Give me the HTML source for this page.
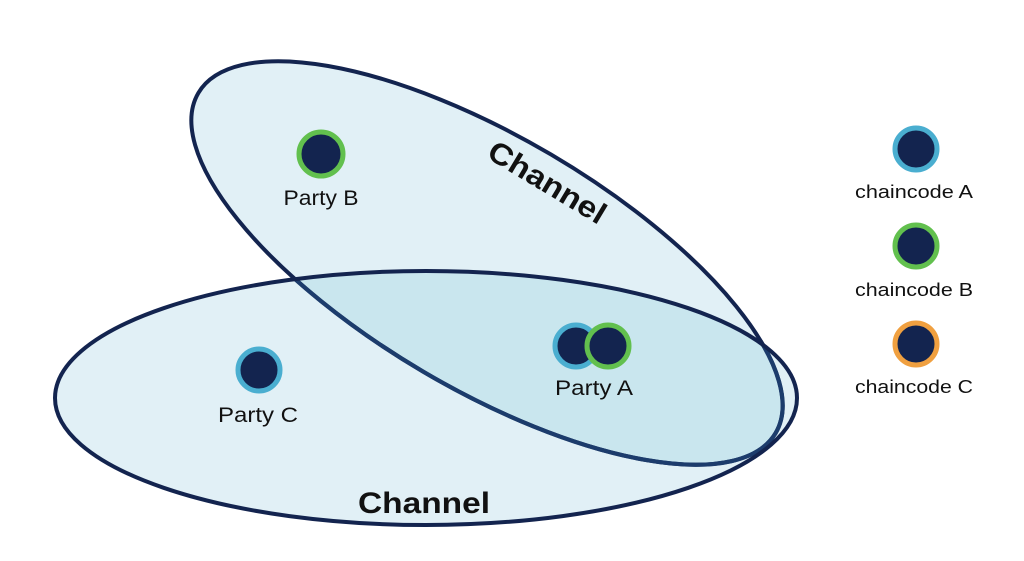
<!DOCTYPE html>
<html><head><meta charset="utf-8"><style>
html,body{margin:0;padding:0;background:#fff;}
svg{display:block;}
text{font-family:"Liberation Sans",sans-serif;fill:#111;}
</style></head><body>
<svg width="1024" height="561" viewBox="0 0 1024 561" xmlns="http://www.w3.org/2000/svg">
<defs>
<clipPath id="cb"><ellipse cx="426" cy="398" rx="371" ry="127"/></clipPath>
</defs>
<rect width="1024" height="561" fill="#fff"/>
<!-- tilted ellipse -->
<ellipse cx="487" cy="263" rx="335" ry="126" transform="rotate(30.5 487 263)" fill="#e1f0f6"/>
<!-- bottom ellipse fill -->
<ellipse cx="426" cy="398" rx="371" ry="127" fill="#e1f0f6"/>
<!-- overlap -->
<g clip-path="url(#cb)">
<ellipse cx="487" cy="263" rx="335" ry="126" transform="rotate(30.5 487 263)" fill="#c9e6ee"/>
</g>
<!-- tilted stroke -->
<ellipse cx="487" cy="263" rx="335" ry="126" transform="rotate(30.5 487 263)" fill="none" stroke="#13244f" stroke-width="4"/>
<g clip-path="url(#cb)">
<ellipse cx="487" cy="263" rx="335" ry="126" transform="rotate(30.5 487 263)" fill="none" stroke="#1c3c6c" stroke-width="4.2"/>
</g>
<!-- bottom stroke -->
<ellipse cx="426" cy="398" rx="371" ry="127" fill="none" stroke="#13244f" stroke-width="4"/>

<!-- Party B -->
<circle cx="321" cy="154" r="22" fill="#13244f" stroke="#62c04e" stroke-width="5"/>
<text x="321" y="205" font-size="21" text-anchor="middle" textLength="75" lengthAdjust="spacingAndGlyphs">Party B</text>

<!-- Party A -->
<circle cx="576" cy="346" r="21" fill="#13244f" stroke="#4aaed0" stroke-width="5"/>
<circle cx="608" cy="346" r="21" fill="#13244f" stroke="#62c04e" stroke-width="5"/>
<text x="594" y="395" font-size="21" text-anchor="middle" textLength="78" lengthAdjust="spacingAndGlyphs">Party A</text>

<!-- Party C -->
<circle cx="259" cy="370" r="21" fill="#13244f" stroke="#4aaed0" stroke-width="5"/>
<text x="258" y="422" font-size="21" text-anchor="middle" textLength="80" lengthAdjust="spacingAndGlyphs">Party C</text>

<!-- Channel labels -->
<text x="424" y="513" font-size="30" font-weight="bold" text-anchor="middle" textLength="132" lengthAdjust="spacingAndGlyphs">Channel</text>
<text x="0" y="0" font-size="30" font-weight="bold" text-anchor="middle" textLength="132" lengthAdjust="spacingAndGlyphs" transform="translate(542 191) rotate(31)">Channel</text>

<!-- Legend -->
<circle cx="916" cy="149" r="21" fill="#13244f" stroke="#4aaed0" stroke-width="5"/>
<text x="914" y="198" font-size="18" text-anchor="middle" textLength="118" lengthAdjust="spacingAndGlyphs">chaincode A</text>
<circle cx="916" cy="246" r="21" fill="#13244f" stroke="#62c04e" stroke-width="5"/>
<text x="914" y="296" font-size="18" text-anchor="middle" textLength="118" lengthAdjust="spacingAndGlyphs">chaincode B</text>
<circle cx="916" cy="344" r="21" fill="#13244f" stroke="#f0a040" stroke-width="5"/>
<text x="914" y="393" font-size="18" text-anchor="middle" textLength="118" lengthAdjust="spacingAndGlyphs">chaincode C</text>
</svg>
</body></html>
